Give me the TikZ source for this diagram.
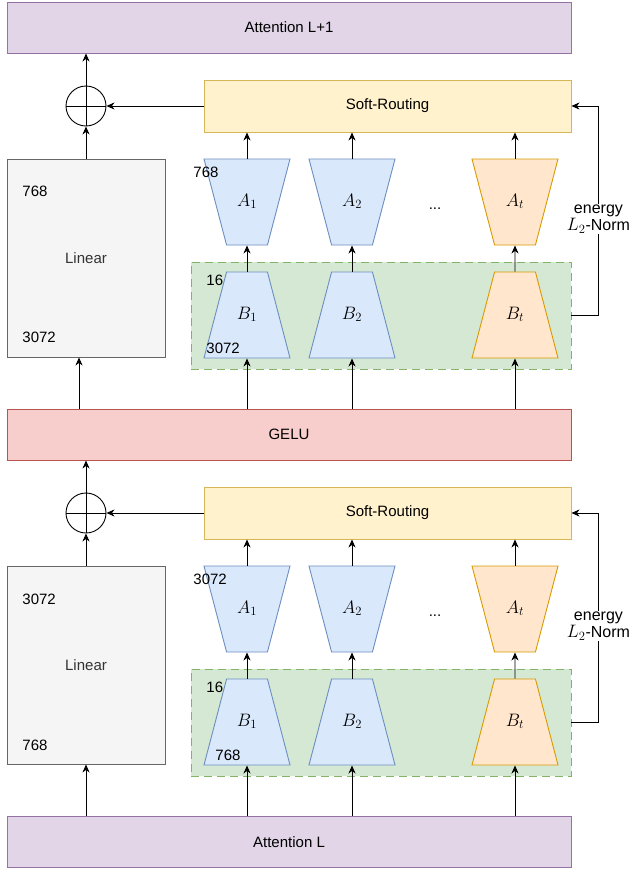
\RequirePackage{fix-cm}
\documentclass[tikz,border=0pt]{standalone}
\usepackage{fontspec}
\setmainfont{Liberation Sans}
\usetikzlibrary{arrows.meta,shapes.geometric,positioning}

\definecolor{attfill}{HTML}{E1D5E7}
\definecolor{attdraw}{HTML}{9673A6}
\definecolor{srfill}{HTML}{FFF2CC}
\definecolor{srdraw}{HTML}{D6B656}
\definecolor{loafill}{HTML}{DAE8FC}
\definecolor{loadraw}{HTML}{6C8EBF}
\definecolor{lotfill}{HTML}{FFE6CC}
\definecolor{lotdraw}{HTML}{D79B00}
\definecolor{grnfill}{HTML}{D5E8D4}
\definecolor{grndraw}{HTML}{82B366}
\definecolor{gelufill}{HTML}{F8CECC}
\definecolor{geludraw}{HTML}{B85450}
\definecolor{linfill}{HTML}{F5F5F5}
\definecolor{lindraw}{HTML}{666666}
\definecolor{lintext}{HTML}{333333}

\newcommand{\bigmath}[1]{{\fontsize{18}{18}\selectfont$#1$}}

\tikzset{
  block/.style={rectangle, draw, inner sep=0pt},
  attbox/.style={block, fill=attfill, draw=attdraw, minimum width=564pt, minimum height=51pt},
  srbox/.style={block, fill=srfill, draw=srdraw, minimum width=367pt, minimum height=52pt},
  gelubox/.style={block, fill=gelufill, draw=geludraw, minimum width=564pt, minimum height=51pt},
  linbox/.style={block, fill=linfill, draw=lindraw, text=lintext, minimum width=158pt, minimum height=198pt},
  grnbox/.style={block, fill=grnfill, draw=grndraw, dash pattern=on 8pt off 5pt, minimum width=380pt, minimum height=107pt},
  plus/.style={circle, draw, minimum size=40pt, inner sep=0pt},
  lora/.style={trapezium, trapezium stretches body, trapezium angle=75.3,
    text height=12pt, text depth=4pt, inner ysep=35pt, inner xsep=0pt,
    minimum width=86pt},
  upA/.style={lora, shape border rotate=180, fill=loafill, draw=loadraw},
  downB/.style={lora, fill=loafill, draw=loadraw},
  upAt/.style={lora, shape border rotate=180, fill=lotfill, draw=lotdraw},
  downBt/.style={lora, fill=lotfill, draw=lotdraw},
  dimlabel/.style={anchor=west, inner sep=0pt},
  elabel/.style={fill=white, align=center, inner sep=1pt, font=\fontsize{16}{17}\selectfont},
}

\begin{document}
\begin{tikzpicture}[x=1pt, y=-1pt, line width=0.9pt,
  >={Stealth[length=8pt, width=7pt, inset=2.5pt]},
  every node/.append style={font=\fontsize{15}{18}\selectfont}]
  \useasboundingbox (0,0) rectangle (630,871);

  %% upper layer
  \node[attbox] (att1) at (289,27.5) {Attention L+1};
  \node[srbox] (sr1) at (387.5,106) {Soft-Routing};
  \node[plus] (plus1) at (86,106) {};
  \node[linbox] (lin1) at (86,258) {Linear};

  \node[grnbox] (grn1) at (381,315.5) {};

  \node[upA] (A1) at (247,202) {\bigmath{A_1}};
  \node[upA] (A2) [node distance=105pt, right of=A1] {\bigmath{A_2}};
  \node[upAt] (At) [node distance=268pt, right of=A1] {\bigmath{A_t}};
  \node (dots1) [node distance=188pt, right of=A1, yshift=-7pt] {...};

  \node[downB] (B1) [node distance=113pt, below of=A1] {\bigmath{B_1}};
  \node[downB] (B2) [node distance=105pt, right of=B1] {\bigmath{B_2}};
  \node[downBt] (Bt) [node distance=268pt, right of=B1] {\bigmath{B_t}};

  \node[gelubox] (gelu) at (289,434.5) {GELU};

  \node[dimlabel] (lin1in) at (22,191) {768};
  \node[dimlabel] (lin1out) at (22,337) {3072};
  \node[dimlabel] (A1dim) at (193,172) {768};
  \node[dimlabel] (B1rank) at (206,280) {16};
  \node[dimlabel] (B1dim) at (206,348) {3072};

  \draw (plus1.north) -- (plus1.south) (plus1.west) -- (plus1.east);
  \draw[->] (lin1) -- (plus1);
  \draw[->] (plus1.north) -- (plus1.north |- att1.south);
  \draw[->] (sr1) -- (plus1);
  \foreach \n in {A1,A2,At}
    \draw[->] (\n.north) -- (\n.north |- sr1.south);
  \draw[->] (B1.north) -- (A1.south);
  \draw[->] (B2.north) -- (A2.south);
  \draw[->] (Bt.north) -- (At.south);
  \foreach \n in {B1,B2,Bt}
    \draw[->] (gelu.north -| \n.south) -- (\n.south);
  \draw[->] ([xshift=-7pt]gelu.north -| lin1.south) -- ([xshift=-7pt]lin1.south);
  \draw[->] (grn1.east) -- ++(27,0) |- node[elabel, pos=0.23] (en1) {energy\\\bigmath{L_2}-Norm} (sr1.east);

  %% lower layer
  \node[srbox] (sr0) [node distance=407pt, below of=sr1] {Soft-Routing};
  \node[plus] (plus0) [node distance=407pt, below of=plus1] {};
  \node[linbox] (lin0) [node distance=407pt, below of=lin1] {Linear};

  \node[grnbox] (grn0) [node distance=407pt, below of=grn1] {};

  \node[upA] (A01) [node distance=407pt, below of=A1] {\bigmath{A_1}};
  \node[upA] (A02) [node distance=105pt, right of=A01] {\bigmath{A_2}};
  \node[upAt] (A0t) [node distance=268pt, right of=A01] {\bigmath{A_t}};
  \node (dots0) [node distance=188pt, right of=A01, yshift=-7pt] {...};

  \node[downB] (B01) [node distance=113pt, below of=A01] {\bigmath{B_1}};
  \node[downB] (B02) [node distance=105pt, right of=B01] {\bigmath{B_2}};
  \node[downBt] (B0t) [node distance=268pt, right of=B01] {\bigmath{B_t}};

  \node[attbox] (att0) at (289,842) {Attention L};

  \node[dimlabel] (lin0in) at (22,599) {3072};
  \node[dimlabel] (lin0out) at (22,745) {768};
  \node[dimlabel] (A01dim) at (193,579) {3072};
  \node[dimlabel] (B01rank) at (206,687) {16};
  \node[dimlabel] (B01dim) at (215,755) {768};

  \draw (plus0.north) -- (plus0.south) (plus0.west) -- (plus0.east);
  \draw[->] (lin0) -- (plus0);
  \draw[->] (plus0.north) -- (plus0.north |- gelu.south);
  \draw[->] (sr0) -- (plus0);
  \foreach \n in {A01,A02,A0t}
    \draw[->] (\n.north) -- (\n.north |- sr0.south);
  \draw[->] (B01.north) -- (A01.south);
  \draw[->] (B02.north) -- (A02.south);
  \draw[->] (B0t.north) -- (A0t.south);
  \foreach \n in {B01,B02,B0t}
    \draw[->] (att0.north -| \n.south) -- (\n.south);
  \draw[->] (att0.north -| lin0.south) -- (lin0.south);
  \draw[->] (grn0.east) -- ++(27,0) |- node[elabel, pos=0.23] (en0) {energy\\\bigmath{L_2}-Norm} (sr0.east);

\end{tikzpicture}
\end{document}
